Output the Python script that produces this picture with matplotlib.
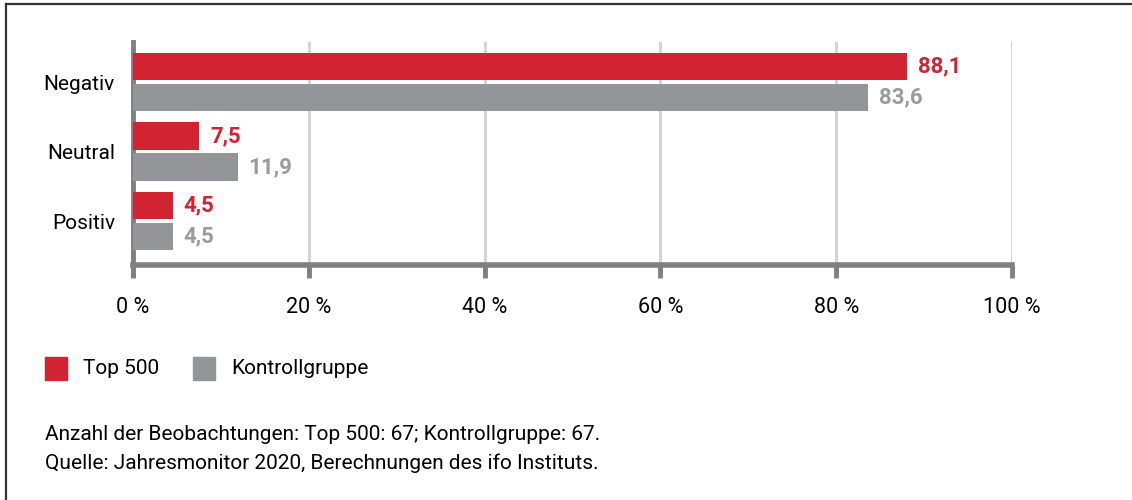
import numpy as np
import matplotlib
matplotlib.use("Agg")
import matplotlib.pyplot as plt
from matplotlib.patches import Rectangle
from matplotlib.lines import Line2D

plt.rcParams['font.family'] = ['Roboto', 'DejaVu Sans']

categories = ["Negativ", "Neutral", "Positiv"]
top500 = [88.1, 7.5, 4.5]
kontroll = [83.6, 11.9, 4.5]
series_names = ["Top 500", "Kontrollgruppe"]
xticks = [0, 20, 40, 60, 80, 100]
notes = ["Anzahl der Beobachtungen: Top 500: 67; Kontrollgruppe: 67.",
         "Quelle: Jahresmonitor 2020, Berechnungen des ifo Instituts."]

red = '#d22333'
gray = '#939598'
gray_txt = '#9b9b9b'
axis_gray = '#808080'

fig = plt.figure(figsize=(11.32, 5), dpi=100)
ax = fig.add_axes([133 / 1132, 1 - 265 / 500, (1012 - 133) / 1132, (265 - 42) / 500])

y = np.arange(len(categories))[::-1].astype(float)
h = 0.39
off = 0.223
ax.barh(y + off, top500, height=h, color=red, zorder=3)
ax.barh(y - off, kontroll, height=h, color=gray, zorder=3)

def fmt(v):
    return f"{v:.1f}".replace('.', ',')

for yi, v in zip(y, top500):
    ax.text(v + 1.25, yi + off, fmt(v), va='center', ha='left', color=red,
            fontsize=16, fontweight='bold')
for yi, v in zip(y, kontroll):
    ax.text(v + 1.25, yi - off, fmt(v), va='center', ha='left', color=gray_txt,
            fontsize=16, fontweight='bold')

ax.set_xlim(0, 100)
ax.set_ylim(-0.633, 2.576)
ax.set_yticks(y)
ax.set_yticklabels(categories, fontsize=15)
ax.tick_params(axis='y', length=0, pad=13)
ax.set_xticks(xticks)
ax.set_xticklabels([f"{t} %" for t in xticks], fontsize=15.5)
ax.tick_params(axis='x', direction='out', length=9, width=3.5, color=axis_gray, pad=14)

ax.grid(axis='x', color='#d4d4d4', linewidth=2.2, zorder=0)
for s in ['top', 'right']:
    ax.spines[s].set_visible(False)
ax.spines['left'].set_color(axis_gray)
ax.spines['left'].set_linewidth(3.5)
ax.spines['left'].set_bounds(-0.633 - 0.14, 2.576)
ax.spines['bottom'].set_color(axis_gray)
ax.spines['bottom'].set_linewidth(4)
ax.spines['bottom'].set_zorder(4)

# legend
W, H = 1132, 500
for (x0, col, name, tx) in [(45, red, series_names[0], 83), (193, gray, series_names[1], 231)]:
    fig.patches.append(Rectangle((x0 / W, 1 - 380 / H), 22 / W, 23 / H,
                                 transform=fig.transFigure, color=col))
    fig.text(tx / W, 1 - 368 / H, name, fontsize=15, va='center', ha='left')

fig.text(45 / W, 1 - 435 / H, notes[0], fontsize=15, va='center', ha='left')
fig.text(45 / W, 1 - 463 / H, notes[1], fontsize=15, va='center', ha='left')

# frame
fig.add_artist(Line2D([6 / W, 1], [1 - 4 / H, 1 - 4 / H], transform=fig.transFigure,
                      color='#333333', lw=1.6))
fig.add_artist(Line2D([6 / W, 6 / W], [0, 1 - 4 / H], transform=fig.transFigure,
                      color='#333333', lw=1.6))

fig.savefig("out.png", dpi=100)
